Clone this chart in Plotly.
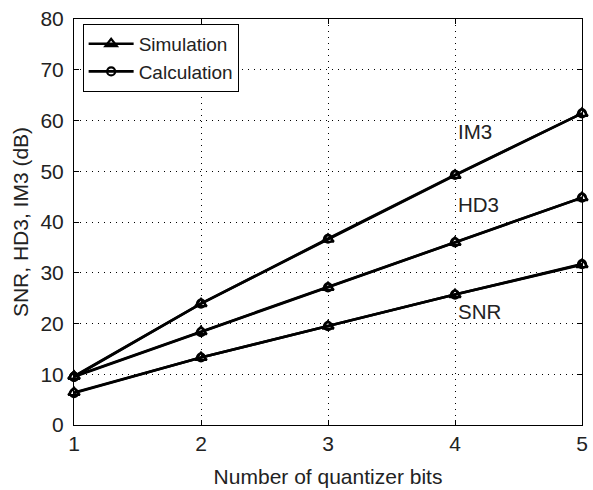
import plotly.graph_objects as go

bits = [1, 2, 3, 4, 5]

# Simulated results (dB)
sim_snr = [6.4, 13.3, 19.5, 25.7, 31.6]
sim_hd3 = [9.6, 18.4, 27.1, 36.0, 44.8]
sim_im3 = [9.6, 23.9, 36.6, 49.2, 61.4]

# Calculated results (dB)
calc_snr = [6.3, 13.3, 19.5, 25.7, 31.7]
calc_hd3 = [9.5, 18.3, 27.1, 36.0, 44.8]
calc_im3 = [9.5, 23.9, 36.7, 49.3, 61.4]

curve_labels = ["IM3", "HD3", "SNR"]
label_x = [4.01, 4.01, 4.01]
label_y = [57.8, 43.5, 22.4]

FONT = "Liberation Sans, Arial, sans-serif"
TXT = "#222"
fig = go.Figure()

line = dict(color="black", width=2.6)
for i, ys in enumerate([sim_snr, sim_hd3, sim_im3]):
    fig.add_trace(go.Scatter(
        x=bits, y=ys, mode="lines+markers", line=line,
        marker=dict(symbol="triangle-up-open", size=10, color="black",
                    line=dict(width=2.2, color="black")),
        name="Simulation", legendgroup="sim", showlegend=(i == 0),
        cliponaxis=False))
for i, ys in enumerate([calc_snr, calc_hd3, calc_im3]):
    fig.add_trace(go.Scatter(
        x=bits, y=ys, mode="lines+markers", line=line,
        marker=dict(symbol="circle-open", size=8, color="black",
                    line=dict(width=2.2, color="black")),
        name="Calculation", legendgroup="calc", showlegend=(i == 0),
        cliponaxis=False))

for txt, xx, yy in zip(curve_labels, label_x, label_y):
    fig.add_annotation(x=xx, y=yy, text=txt, showarrow=False,
                       xanchor="left", yanchor="middle",
                       font=dict(family=FONT, size=20.5, color=TXT))

axis_common = dict(
    showline=True, linecolor="black", linewidth=1, mirror="ticks",
    ticks="inside", ticklen=5, tickcolor="black",
    showgrid=True, gridcolor="black", griddash="1px,5px", gridwidth=1,
    zeroline=False, tickfont=dict(family=FONT, size=21, color=TXT),
    ticklabeloverflow="allow",
)

fig.update_xaxes(range=[1, 5], dtick=1, **axis_common,
                 title=dict(text="Number of quantizer bits",
                            font=dict(family=FONT, size=21, color=TXT),
                            standoff=15))
fig.update_yaxes(range=[0, 80], dtick=10, **axis_common,
                 ticklabelstandoff=5,
                 title=dict(text="SNR, HD3, IM3 (dB)",
                            font=dict(family=FONT, size=21, color=TXT),
                            standoff=6))

fig.update_layout(
    width=593, height=490,
    margin=dict(l=74, r=5, t=19, b=63),
    plot_bgcolor="white", paper_bgcolor="white",
    legend=dict(x=0.017, y=0.988, xanchor="left", yanchor="top",
                bgcolor="white", bordercolor="black", borderwidth=1,
                font=dict(family=FONT, size=19, color=TXT),
                itemwidth=45, tracegroupgap=0),
)

fig.write_html("out.html")
